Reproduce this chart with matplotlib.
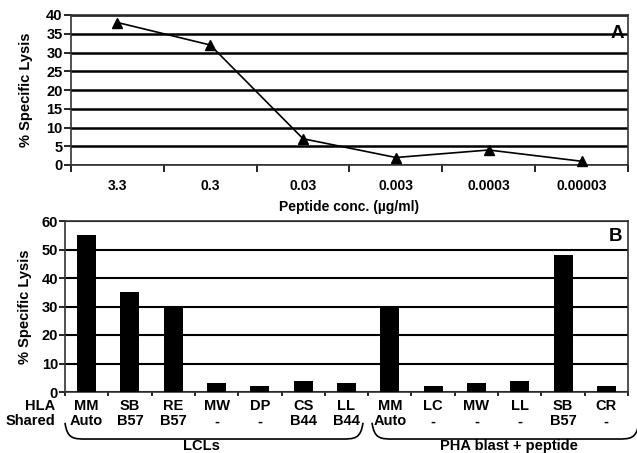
import matplotlib
matplotlib.use("Agg")
import matplotlib.pyplot as plt
import matplotlib.transforms as mtrans
from matplotlib.path import Path
from matplotlib.patches import PathPatch

plt.rcParams['font.family'] = ['Liberation Sans', 'DejaVu Sans']
plt.rcParams['font.weight'] = 'bold'

# panel A
conc_labels = ['3.3', '0.3', '0.03', '0.003', '0.0003', '0.00003']
lysis_a = [38, 32, 7, 2, 4, 1]

# panel B
targets = ['MM', 'SB', 'RE', 'MW', 'DP', 'CS', 'LL', 'MM', 'LC', 'MW', 'LL', 'SB', 'CR']
shared = ['Auto', 'B57', 'B57', '-', '-', 'B44', 'B44', 'Auto', '-', '-', '-', 'B57', '-']
lysis_b = [55, 35, 30, 3, 2, 4, 3, 30, 2, 3, 4, 48, 2]
groups = [('LCLs', -0.5, 6.38, 2.66), ('PHA blast + peptide', 6.59, 12.75, 9.75)]

W, H = 637, 453
fig = plt.figure(figsize=(W / 100, H / 100), dpi=100)

def box(l, t, r, b):
    return [l / W, 1 - b / H, (r - l) / W, (b - t) / H]

fs = 10

# ---- A ----
axa = fig.add_axes(box(71, 15, 628, 165))
xa = list(range(len(lysis_a)))
axa.plot(xa, lysis_a, color='black', lw=1.2, marker='^', ms=7, clip_on=False, zorder=3)
axa.set_xlim(-0.5, len(xa) - 0.5)
axa.set_ylim(0, 40)
axa.set_yticks(range(0, 41, 5))
axa.grid(axis='y', color='black', lw=1.8)
axa.set_axisbelow(True)
axa.set_xticks([i + 0.5 for i in xa[:-1]] + [-0.5, len(xa) - 0.5])
axa.set_xticklabels([])
axa.set_xticks(xa, minor=True)
axa.set_xticklabels(conc_labels, minor=True, fontsize=fs, fontweight='bold')
axa.tick_params(axis='x', which='minor', length=0, pad=10)
axa.tick_params(axis='x', which='major', length=5, width=1.2, direction='out')
axa.tick_params(axis='y', length=5, width=1.2, labelsize=fs + 0.5, pad=1)
axa.set_xlabel('Peptide conc. (\u00b5g/ml)', fontsize=fs, fontweight='bold', labelpad=5)
axa.set_ylabel('% Specific Lysis', fontsize=fs + 0.5, fontweight='bold')
axa.yaxis.set_label_coords(-0.068, 0.5)
for s in axa.spines.values():
    s.set_color('#333333')
    s.set_linewidth(1.2)
axa.text(0.993, 0.93, 'A', transform=axa.transAxes, ha='right', va='top',
         fontsize=13.5, fontweight='bold')

# ---- B ----
axb = fig.add_axes(box(65, 221, 628, 392))
xb = list(range(len(lysis_b)))
axb.bar(xb, lysis_b, width=0.44, color='black', zorder=3)
axb.set_xlim(-0.5, len(xb) - 0.5)
axb.set_ylim(0, 60)
axb.set_yticks(range(0, 61, 10))
axb.grid(axis='y', color='black', lw=1.5)
axb.set_axisbelow(True)
axb.set_xticks([i + 0.5 for i in xb[:-1]] + [-0.5, len(xb) - 0.5])
axb.set_xticklabels([])
axb.tick_params(axis='x', length=3, width=1.2, direction='out')
axb.tick_params(axis='y', length=4, width=1.2, labelsize=fs + 0.5, pad=1)
axb.set_ylabel('% Specific Lysis', fontsize=fs + 0.5, fontweight='bold')
axb.yaxis.set_label_coords(-0.058, 0.5)
for s in axb.spines.values():
    s.set_color('#333333')
    s.set_linewidth(1.2)
axb.text(0.99, 0.96, 'B', transform=axb.transAxes, ha='right', va='top',
         fontsize=13.5, fontweight='bold')

trans = mtrans.blended_transform_factory(axb.transData, axb.transAxes)
for i in xb:
    axb.text(i, -0.08, targets[i], transform=trans, ha='center', va='center',
             fontsize=fs + 0.5, fontweight='bold')
    axb.text(i, -0.172, shared[i], transform=trans, ha='center', va='center',
             fontsize=fs + 0.5, fontweight='bold')
fig.text(55 / W, 1 - 406 / H, 'HLA', ha='right', va='center', fontsize=fs + 0.5, fontweight='bold')
fig.text(55 / W, 1 - 421 / H, 'Shared', ha='right', va='center', fontsize=fs + 0.5, fontweight='bold')

ytop, ybot = -0.18, -0.275
for name, x0, x1, xc in groups:
    d = 0.5
    verts = [(x0, ytop), (x0 + 0.05, ybot), (x0 + d * 0.4, ybot), (x0 + d, ybot),
             (x1 - d, ybot),
             (x1 - d * 0.4, ybot), (x1 - 0.05, ybot), (x1, ytop)]
    codes = [Path.MOVETO, Path.CURVE4, Path.CURVE4, Path.CURVE4, Path.LINETO,
             Path.CURVE4, Path.CURVE4, Path.CURVE4]
    axb.add_patch(PathPatch(Path(verts, codes), fill=False, lw=1.2, color='black',
                            transform=trans, clip_on=False))
    axb.text(xc, -0.318, name, transform=trans, ha='center', va='center',
             fontsize=fs + 0.5, fontweight='bold')

fig.savefig('out.png', dpi=100)
